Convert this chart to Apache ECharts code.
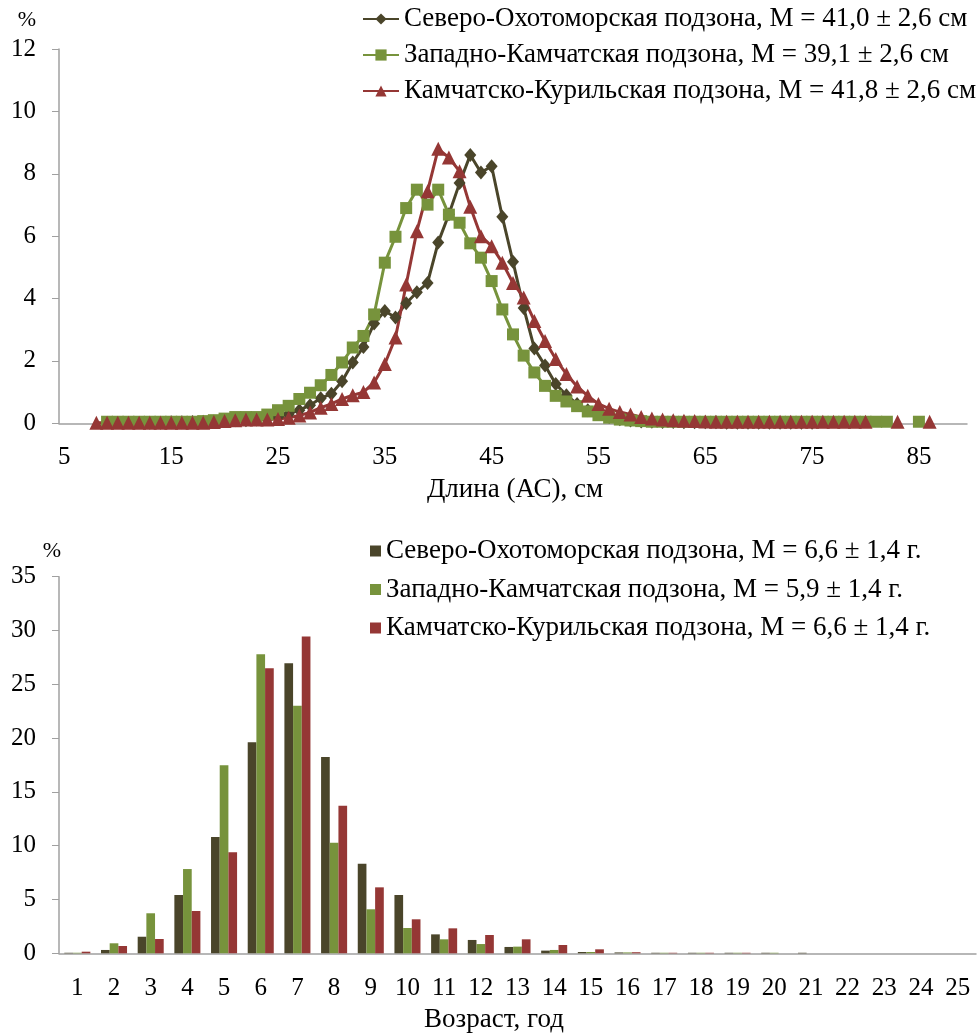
<!DOCTYPE html>
<html><head><meta charset="utf-8">
<script src="https://cdn.jsdelivr.net/npm/echarts@6/dist/echarts.min.js"></script>
<style>html,body{margin:0;padding:0;background:#fff}#c{width:977px;height:1033px}</style>
</head><body><div id="c"></div>
<script>
// ---- Top chart: length distribution ----
const lengthCategories = [5,6,7,8,9,10,11,12,13,14,15,16,17,18,19,20,21,22,23,24,25,26,27,28,29,30,31,32,33,34,35,36,37,38,39,40,41,42,43,44,45,46,47,48,49,50,51,52,53,54,55,56,57,58,59,60,61,62,63,64,65,66,67,68,69,70,71,72,73,74,75,76,77,78,79,80,81,82,83,84,85,86,87,88,89];
// lengths for the data arrays below (8 .. 86)
const lengths = [8,9,10,11,12,13,14,15,16,17,18,19,20,21,22,23,24,25,26,27,28,29,30,31,32,33,34,35,36,37,38,39,40,41,42,43,44,45,46,47,48,49,50,51,52,53,54,55,56,57,58,59,60,61,62,63,64,65,66,67,68,69,70,71,72,73,74,75,76,77,78,79,80,81,82,83,84,85,86];
const severoLen = [null,null,null,null,null,0.02,0.02,0.03,0.03,0.04,0.05,0.06,0.08,0.1,0.1,0.12,0.15,0.2,0.3,0.42,0.58,0.8,0.95,1.35,1.95,2.45,3.2,3.6,3.39,3.85,4.2,4.5,5.8,6.7,7.7,8.6,8.04,8.24,6.62,5.18,3.7,2.4,1.85,1.26,0.9,0.62,0.42,0.3,0.2,0.13,0.09,0.06,0.05,0.04,0.04,0.03,0.03,0.03,0.03,0.02,0.02,0.02,0.02,0.02,0.02,0.02,0.02,0.02,null,null,null,null,null,null,null,null,null,null,null];
const zapadLen = [null,0.05,0.05,0.05,0.05,0.05,0.05,0.05,0.05,0.05,0.07,0.1,0.15,0.2,0.2,0.2,0.28,0.42,0.56,0.78,0.98,1.22,1.55,1.95,2.43,2.8,3.49,5.15,5.98,6.9,7.49,7.01,7.49,6.69,6.43,5.77,5.31,4.56,3.65,2.85,2.17,1.63,1.2,0.88,0.7,0.55,0.38,0.26,0.18,0.12,0.09,0.07,0.05,0.05,0.05,0.05,0.05,0.05,0.05,0.05,0.05,0.05,0.05,0.05,0.05,0.05,0.05,0.05,0.05,0.05,0.05,0.05,0.05,0.05,0.05,null,null,0.05,null];
const kamchLen = [0.02,0.02,0.02,0.02,0.02,0.02,0.02,0.02,0.02,0.02,0.02,0.04,0.07,0.1,0.12,0.12,0.12,0.14,0.18,0.25,0.35,0.5,0.62,0.78,0.9,1.0,1.31,1.9,2.75,4.45,6.16,7.44,8.8,8.52,8.08,6.94,6.0,5.68,5.15,4.5,4.03,3.28,2.64,2.06,1.58,1.18,0.88,0.62,0.47,0.36,0.28,0.2,0.15,0.12,0.1,0.08,0.07,0.06,0.05,0.05,0.05,0.05,0.05,0.05,0.05,0.05,0.05,0.05,0.05,0.05,0.05,0.05,0.05,null,null,0.05,null,null,0.05];
const lenNames = ['Северо-Охотоморская подзона, M = 41,0 ± 2,6 см','Западно-Камчатская подзона, M = 39,1 ± 2,6 см','Камчатско-Курильская подзона, M = 41,8 ± 2,6 см'];

// ---- Bottom chart: age distribution ----
const ages = ['1','2','3','4','5','6','7','8','9','10','11','12','13','14','15','16','17','18','19','20','21','22','23','24','25'];
const severoAge = [0.05,0.31,1.54,5.42,10.81,19.61,26.95,18.25,8.33,5.42,1.76,1.24,0.59,0.25,0.12,0.08,0.05,0.05,0.05,0.05,0.05,0,0,0,0];
const zapadAge = [0.05,0.93,3.72,7.83,17.47,27.79,23.01,10.28,4.09,2.35,1.3,0.86,0.62,0.31,0.12,0.08,0.05,0.05,0.05,0.05,0,0,0,0,0];
const kamchAge = [0.15,0.68,1.33,3.93,9.39,26.49,29.45,13.72,6.13,3.16,2.32,1.7,1.3,0.77,0.37,0.1,0.05,0.05,0.05,0,0,0,0,0,0];
const ageNames = ['Северо-Охотоморская подзона, M = 6,6 ± 1,4 г.','Западно-Камчатская подзона, M = 5,9 ± 1,4 г.','Камчатско-Курильская подзона, M = 6,6 ± 1,4 г.'];

const colors = ['#4A452A','#77933C','#953735'];
const FONT = 'Liberation Serif';
const FS = 25;      // tick labels
const FS_T = 27;    // legend / axis titles
const axisGrey = '#a0a0a0';

const pairs = vals => lengths.map((l, i) => [String(l), vals[i]]);

const chart = echarts.init(document.getElementById('c'), null, {renderer: 'canvas'});
const lineSeries = [
  {vals: severoLen, symbol: 'diamond', size: [12, 14]},
  {vals: zapadLen, symbol: 'rect', size: 12},
  {vals: kamchLen, symbol: 'triangle', size: 14}
].map((s, i) => ({
  name: lenNames[i], type: 'line', xAxisIndex: 0, yAxisIndex: 0,
  data: pairs(s.vals), symbol: s.symbol, symbolSize: s.size, showAllSymbol: true,
  connectNulls: false, animation: false,
  lineStyle: {color: colors[i], width: 3}, itemStyle: {color: colors[i]}
}));
const barSeries = [severoAge, zapadAge, kamchAge].map((v, i) => ({
  name: ageNames[i], type: 'bar', xAxisIndex: 1, yAxisIndex: 1, data: v,
  barGap: '0%', barCategoryGap: '29%', animation: false,
  itemStyle: {color: colors[i]}
}));

const tickText = {fontFamily: FONT, fontSize: FS, color: '#000'};
const legText = {fontFamily: FONT, fontSize: FS_T, color: '#000', lineHeight: 27};

chart.setOption({
  animation: false,
  grid: [
    {left: 59, top: 49, width: 908, height: 374.3},
    {left: 59, top: 576.7, width: 917, height: 376.6}
  ],
  legend: [
    {data: lenNames, orient: 'vertical', left: 362, top: 5.5, padding: 0, itemWidth: 36, itemHeight: 14, itemGap: 9,
     textStyle: legText, selectedMode: false},
    {data: ageNames, orient: 'vertical', left: 370, top: 537.5, padding: 0, itemWidth: 11, itemHeight: 11, itemGap: 11.5,
     icon: 'rect', textStyle: legText, selectedMode: false}
  ],
  xAxis: [
    {type: 'category', gridIndex: 0, data: lengthCategories.map(String), boundaryGap: true,
     axisLine: {lineStyle: {color: axisGrey, width: 1.5}},
     axisTick: {interval: 0, length: 7, lineStyle: {color: axisGrey}},
     axisLabel: Object.assign({interval: 9, margin: 22}, tickText)},
    {type: 'category', gridIndex: 1, data: ages, boundaryGap: true,
     axisLine: {lineStyle: {color: axisGrey, width: 1.5}},
     axisTick: {interval: 0, length: 8, lineStyle: {color: axisGrey}},
     axisLabel: Object.assign({interval: 0, margin: 23}, tickText)}
  ],
  yAxis: [
    {type: 'value', gridIndex: 0, min: 0, max: 12, interval: 2,
     axisLine: {show: true, lineStyle: {color: axisGrey, width: 1.5}},
     axisTick: {show: true, length: 7, lineStyle: {color: axisGrey}},
     splitLine: {show: false},
     axisLabel: Object.assign({margin: 23}, tickText)},
    {type: 'value', gridIndex: 1, min: 0, max: 35, interval: 5,
     axisLine: {show: true, lineStyle: {color: axisGrey, width: 1.5}},
     axisTick: {show: true, length: 7, lineStyle: {color: axisGrey}},
     splitLine: {show: false},
     axisLabel: Object.assign({margin: 23}, tickText)}
  ],
  graphic: [
    {type: 'text', x: 27, y: 20, style: {text: '%', font: '22px "Liberation Serif"', fill: '#000', align: 'center', verticalAlign: 'middle'}},
    {type: 'text', x: 52, y: 551, style: {text: '%', font: '22px "Liberation Serif"', fill: '#000', align: 'center', verticalAlign: 'middle'}},
    {type: 'text', x: 515, y: 490, style: {text: 'Длина (АС), см', font: FS_T + 'px "Liberation Serif"', fill: '#000', align: 'center', verticalAlign: 'middle'}},
    {type: 'text', x: 494, y: 1020, style: {text: 'Возраст, год', font: FS_T + 'px "Liberation Serif"', fill: '#000', align: 'center', verticalAlign: 'middle'}}
  ],
  series: lineSeries.concat(barSeries)
});
</script>
</body></html>
